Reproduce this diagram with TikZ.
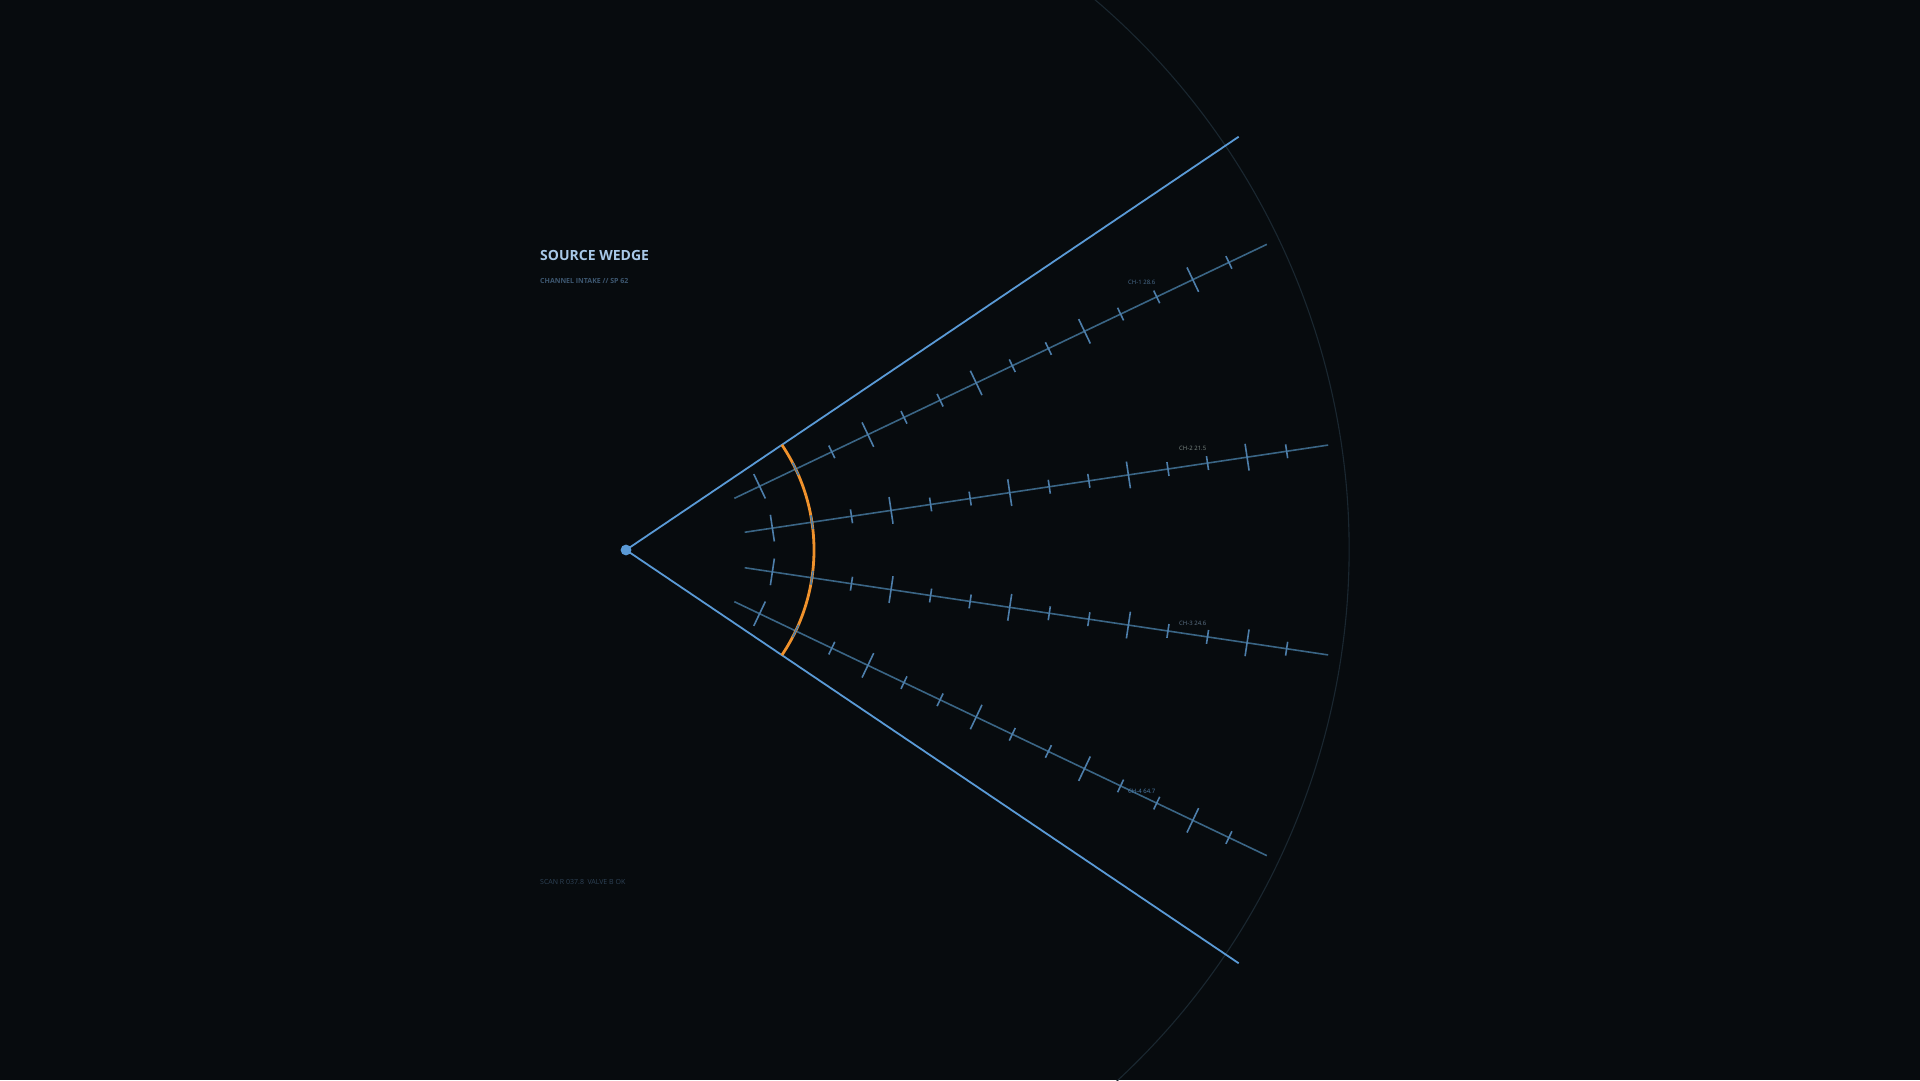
\documentclass[tikz,border=0pt]{standalone}
\usepackage{fontspec}
\setmainfont{Open Sans}
\definecolor{bg}{HTML}{070B0E}
\definecolor{edgeblue}{HTML}{5A9AD6}
\definecolor{rayblue}{HTML}{3A6585}
\definecolor{tickblue}{HTML}{4D7EAA}
\definecolor{faintarc}{HTML}{1A2730}
\definecolor{orangearc}{HTML}{F0922C}
\definecolor{titleblue}{HTML}{A8C8E8}
\definecolor{subgrey}{HTML}{3D5770}
\definecolor{scangrey}{HTML}{2E4256}
\definecolor{lab1}{HTML}{4A6D8E}
\definecolor{lab2}{HTML}{7D8A86}
\definecolor{lab3}{HTML}{5E7388}
\definecolor{lab4}{HTML}{4D7EAA}
\tikzset{
  wedgeedge/.style={draw=edgeblue, line width=1.8pt},
  chray/.style={draw=rayblue, line width=1.6pt},
  chtick/.style={draw=tickblue, line width=1.6pt},
  faint/.style={draw=faintarc, line width=1.1pt},
  gate/.style={draw=orangearc, line width=2.8pt},
  chlabel/.style={anchor=base west, inner sep=0pt, font=\fontsize{6}{7}\selectfont},
}
\begin{document}
\begin{tikzpicture}[x=1pt,y=1pt]
\fill[bg] (0,0) rectangle (1920,1080);
\useasboundingbox (0,0) rectangle (1920,1080);
\coordinate (apex) at (626,530);
% faint outer arc
\begin{scope}
\clip (0,0) rectangle (1920,1080);
\draw[faint] ([shift={(-62:723)}]apex) arc[start angle=-62, end angle=62, radius=723];
\end{scope}
% channel rays
\foreach \a/\n in {25.5/1, 8.5/2, -8.5/3, -25.5/4} {
  \coordinate (ch\n s) at ([shift={(\a:120)}]apex);
  \coordinate (ch\n e) at ([shift={(\a:710)}]apex);
  \draw[chray] (ch\n s) -- (ch\n e);
}
% wedge edges
\coordinate (topend) at ([shift={(34:739)}]apex);
\coordinate (botend) at ([shift={(-34:739)}]apex);
\draw[wedgeedge] (apex) -- (topend);
\draw[wedgeedge] (apex) -- (botend);
% orange gate arc
\coordinate (gatestart) at ([shift={(-34:188)}]apex);
\draw[gate] (gatestart) arc[start angle=-34, end angle=34, radius=188];
% ticks
\foreach \a in {25.5, 8.5, -8.5, -25.5} {
  \foreach \k in {0,...,13} {
    \pgfmathsetmacro\r{148+40*\k}
    \pgfmathsetmacro\h{mod(\k,3)==0 ? 13.5 : 7}
    \draw[chtick] ([shift={(\a:\r)}]apex) ++(\a+90:\h) -- ++(\a-90:2*\h);
  }
}
% apex dot
\fill[edgeblue] (apex) circle[radius=5.4];
% texts
\node[anchor=base west, inner sep=0pt, text=titleblue, font=\fontsize{14}{16}\selectfont\bfseries] (title) at (540,819) {SOURCE WEDGE};
\node[anchor=base west, inner sep=0pt, text=subgrey, font=\fontsize{7}{8}\selectfont\bfseries] (subtitle) at (540,796) {CHANNEL INTAKE // SP 62};
\node[anchor=base west, inner sep=0pt, text=scangrey, font=\fontsize{7}{8}\selectfont] (scan) at (540,196) {SCAN R 037.8\enspace VALVE B OK};
\node[chlabel, text=lab1] (l1) at (1128,795) {CH-1 28.6};
\node[chlabel, text=lab2] (l2) at (1179,629) {CH-2 21.5};
\node[chlabel, text=lab3] (l3) at (1179,454) {CH-3 24.6};
\node[chlabel, text=lab4] (l4) at (1128,287) {CH-4 64.7};
\end{tikzpicture}
\end{document}
